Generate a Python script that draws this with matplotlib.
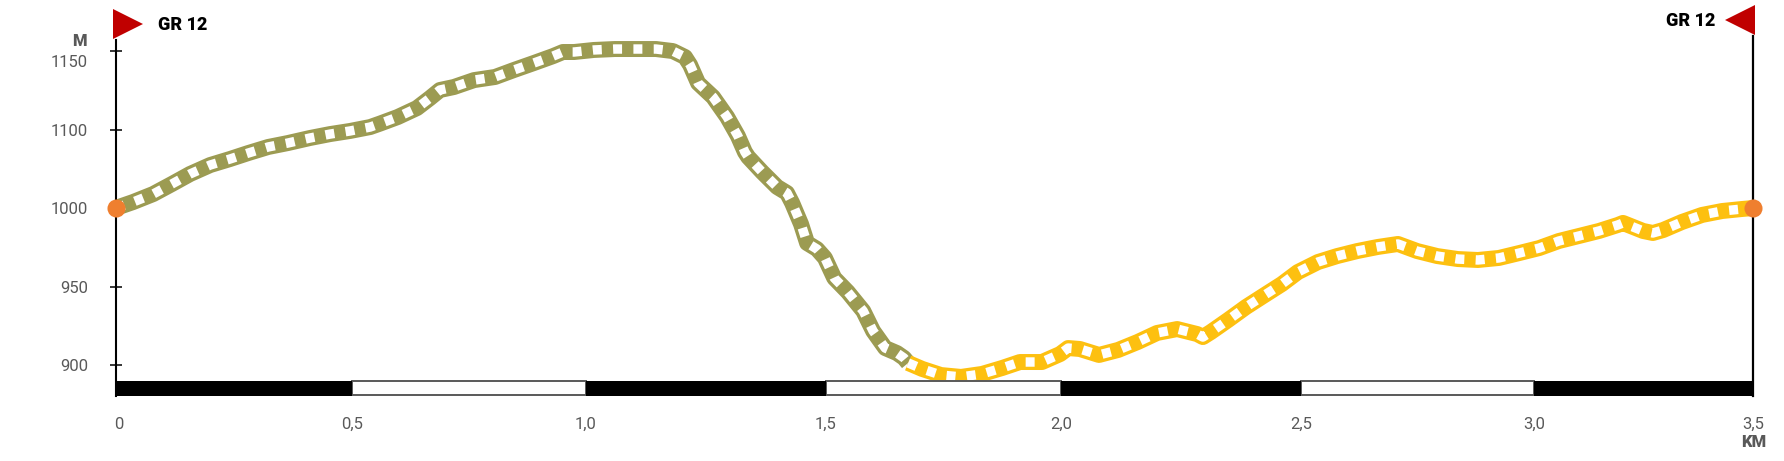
import matplotlib
matplotlib.use("Agg")
import matplotlib.pyplot as plt
from matplotlib.transforms import ScaledTranslation

plt.rcParams['font.family'] = ['Roboto', 'DejaVu Sans']

# olive stretch (km, height on the axis' own linear scale)
olive_km = [0, 0.037, 0.080, 0.120, 0.159, 0.202, 0.244, 0.283, 0.326, 0.368, 0.415, 0.458, 0.501,
            0.544, 0.565, 0.603, 0.644, 0.672, 0.693, 0.723, 0.766, 0.811, 0.851, 0.894, 0.935,
            0.956, 0.980, 1.022, 1.067, 1.112, 1.155, 1.191, 1.217, 1.228, 1.245, 1.277, 1.307,
            1.330, 1.345, 1.352, 1.382, 1.414, 1.435, 1.446, 1.465, 1.478, 1.499, 1.516, 1.536,
            1.565, 1.598, 1.619, 1.645, 1.670, 1.685, 1.694]
olive_m = [1000, 1003.8, 1008.9, 1015.3, 1021.7, 1027.4, 1031.2, 1035, 1038.9, 1041.4, 1044.6, 1047.1, 1049.1,
           1051.6, 1053.8, 1058, 1063.7, 1070.1, 1075.2, 1077.1, 1081.5, 1083.5, 1087.9, 1092.4, 1096.8,
           1099.4, 1099.4, 1100.7, 1101.3, 1101.3, 1101.3, 1100, 1096.2, 1091.1, 1079.6, 1070.7, 1058,
           1045.9, 1035.7, 1032.5, 1022.9, 1013.4, 1009.6, 1003.2, 989.8, 977.7, 973.9, 968.2, 955.4,
           946.5, 934.4, 921.7, 910.8, 907.6, 904.5, 901.3]

# yellow stretch
yellow_km = [1.694, 1.724, 1.764, 1.807, 1.852, 1.895, 1.933, 1.980, 2.019, 2.036, 2.061, 2.102, 2.143,
             2.185, 2.226, 2.269, 2.312, 2.324, 2.341, 2.378, 2.416, 2.453, 2.493, 2.527, 2.570,
             2.611, 2.654, 2.698, 2.741, 2.782, 2.825, 2.869, 2.912, 2.957, 3.000, 3.043, 3.085,
             3.128, 3.171, 3.211, 3.222, 3.265, 3.286, 3.308, 3.348, 3.391, 3.434, 3.477, 3.5]
yellow_m = [901.3, 897.5, 893.6, 892.4, 894.3, 898.1, 901.9, 901.9, 907, 910.8, 910.2, 906.4, 909.6,
            914.7, 920.4, 922.9, 919.7, 917.8, 921, 928.7, 936.9, 944, 951.6, 959.2, 965.6,
            969.4, 972.6, 975.2, 977.1, 972.6, 969.4, 967.5, 966.9, 968.2, 971.3, 974.5, 979,
            982.2, 985.4, 989.2, 990.5, 985.4, 984.1, 986, 991.1, 995.6, 998.1, 999.4, 1000]

# the printed labels skip 1050, so 1000 -> 1100 takes a single tick step
y_ticks = [900, 950, 1000, 1050, 1100]
y_labels = ['900', '950', '1000', '1100', '1150']

scale_km = [0, 0.505, 1.005, 1.518, 2.021, 2.534, 3.032, 3.5]
x_labels = ['0', '0,5', '1,0', '1,5', '2,0', '2,5', '3,0', '3,5']
route_name = 'GR 12'

OLIVE = '#9c9b52'
YELLOW = '#fdc010'
ORANGE = '#ef7f2f'
RED = '#c00000'
GREY = '#595959'

W, H = 1784, 461


def fx(px):
    return px / W


def fy(px):
    return 1 - px / H


fig = plt.figure(figsize=(W / 100, H / 100), dpi=100, facecolor='white')
ax = fig.add_axes([fx(115.7), fy(396), (1753 - 115.7) / W, 360 / H])
ax.set_xlim(0, 3.5)
ax.set_ylim(880.25, 1109.6)
ax.patch.set_alpha(0)

# elevation profile, white squares on a thick band
for km, m, col in [(olive_km, olive_m, OLIVE), (yellow_km, yellow_m, YELLOW)]:
    ax.plot(km, m, color=col, lw=11.5, solid_capstyle='butt', solid_joinstyle='round', zorder=2)
    ax.plot(km, m, color='white', lw=6.8, dashes=(0.95, 1.2), dash_capstyle='butt',
            dash_joinstyle='round', zorder=3)

# scale bar along the bottom
for i in range(len(scale_km) - 1):
    left = scale_km[i]
    width = scale_km[i + 1] - left
    if i % 2 == 0:
        ax.bar(left, 9.75, width, bottom=880.25, align='edge', color='black', zorder=5)
    else:
        ax.bar(left, 9.2, width, bottom=880.6, align='edge', color='white', edgecolor=GREY, lw=1.4, zorder=4)

# end points
ax.plot([0, 3.5], [1000, 1000], 'o', color=ORANGE, ms=13, mew=0, clip_on=False, zorder=6)

for side in ['top', 'bottom']:
    ax.spines[side].set_visible(False)
ax.spines['left'].set_bounds(880.25, 1107)
ax.spines['left'].set_linewidth(1.5)
ax.spines['right'].set_linewidth(1.6)
ax.spines['right'].set_zorder(1)

ax.set_yticks(y_ticks)
ax.set_yticklabels(y_labels)
ax.tick_params(axis='y', direction='inout', length=8, width=1.1, color='black', pad=16,
               labelsize=12, labelcolor=GREY)
ax.set_xticks(scale_km)
ax.set_xticklabels(x_labels)
ax.tick_params(axis='x', length=0, pad=15, labelsize=12, labelcolor=GREY)

# small offsets the original has on a couple of labels
ax.get_yticklabels()[-1].set_transform(
    ax.get_yticklabels()[-1].get_transform() + ScaledTranslation(0, -10 / 100, fig.dpi_scale_trans))
ax.get_xticklabels()[0].set_transform(
    ax.get_xticklabels()[0].get_transform() + ScaledTranslation(3 / 100, 0, fig.dpi_scale_trans))

# flags and route names
fig.add_artist(plt.Line2D([fx(127.5)], [fy(24)], marker='>', ms=22, color=RED, mew=0))
fig.add_artist(plt.Line2D([fx(1739.5)], [fy(20.5)], marker='<', ms=22, color=RED, mew=0))
fig.text(fx(158), fy(25), route_name, fontsize=13, fontweight='black', color='black', ha='left', va='center')
fig.text(fx(1715), fy(21), route_name, fontsize=13, fontweight='black', color='black', ha='right', va='center')
fig.text(fx(87), fy(41), 'M', fontsize=12, fontweight='black', color=GREY, ha='right', va='center')
fig.text(fx(1754), fy(442), 'KM', fontsize=12, fontweight='black', color=GREY, ha='center', va='center')

fig.savefig('out.png', dpi=100)
